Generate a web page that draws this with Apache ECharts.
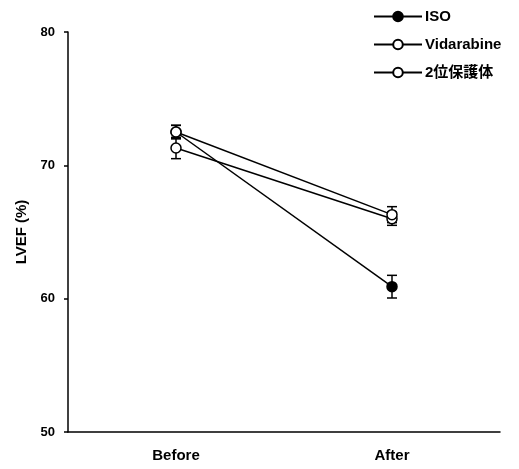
<!DOCTYPE html>
<html lang="en">
<head>
    <meta charset="UTF-8">
    <title>LVEF</title>
    <script src="https://cdn.jsdelivr.net/npm/echarts@6/dist/echarts.min.js"></script>
</head>
<body style="margin:0">
<div id="myChart" style="width: 519px;height: 469px;"></div>
<script>
    var categories = ['Before', 'After'];
    var seriesNames = ['ISO', 'Vidarabine', '2位保護体'];
    var isoMean = [72.5, 60.9];
    var isoErr = [0.5, 0.85];
    var vidMean = [72.5, 66.3];
    var vidErr = [0.5, 0.6];
    var protMean = [71.3, 66.0];
    var protErr = [0.8, 0.5];

    var font = 'Liberation Sans, Arial, Noto Sans CJK JP, sans-serif';

    function errorSeries(name, mean, err, z) {
        var data = [];
        for (var i = 0; i < mean.length; i++) {
            data.push([i, mean[i] - err[i], mean[i] + err[i]]);
        }
        return {
            name: name,
            type: 'custom',
            z: z,
            silent: true,
            data: data,
            renderItem: function (params, api) {
                var lo = api.coord([api.value(0), api.value(1)]);
                var hi = api.coord([api.value(0), api.value(2)]);
                var w = 5;
                var style = {stroke: '#000', lineWidth: 1.5};
                return {
                    type: 'group',
                    children: [
                        {type: 'line', shape: {x1: hi[0], y1: hi[1], x2: lo[0], y2: lo[1]}, style: style},
                        {type: 'line', shape: {x1: hi[0] - w, y1: hi[1], x2: hi[0] + w, y2: hi[1]}, style: style},
                        {type: 'line', shape: {x1: lo[0] - w, y1: lo[1], x2: lo[0] + w, y2: lo[1]}, style: style}
                    ]
                };
            }
        };
    }

    function lineSeries(name, mean, fill, z) {
        return {
            name: name,
            type: 'line',
            z: z,
            data: mean,
            symbol: 'circle',
            symbolSize: 10,
            lineStyle: {color: '#000', width: 1.5},
            itemStyle: {color: fill, borderColor: '#000', borderWidth: 1.5},
            emphasis: {disabled: true}
        };
    }

    var myChart = echarts.init(document.getElementById('myChart'));
    var option = {
        animation: false,
        textStyle: {fontFamily: font},
        grid: {left: 68, right: 19, top: 32, bottom: 37},
        legend: {
            orient: 'vertical',
            left: 368,
            top: 4,
            itemWidth: 48,
            itemHeight: 12,
            itemGap: 13,
            data: seriesNames,
            textStyle: {fontSize: 15, fontWeight: 'bold', color: '#000', padding: [0, 0, 0, -2]}
        },
        xAxis: {
            type: 'category',
            data: categories,
            boundaryGap: true,
            axisLine: {lineStyle: {color: '#000', width: 1.5}},
            axisTick: {inside: true, length: 5, lineStyle: {color: '#000', width: 1.5}},
            axisLabel: {color: '#000', fontSize: 15, fontWeight: 'bold', margin: 16}
        },
        yAxis: {
            type: 'value',
            min: 50,
            max: 80,
            interval: 10,
            name: 'LVEF (%)',
            nameLocation: 'middle',
            nameGap: 36,
            nameTextStyle: {color: '#000', fontSize: 15, fontWeight: 'bold'},
            splitLine: {show: false},
            axisLine: {show: true, lineStyle: {color: '#000', width: 1.5}},
            axisTick: {show: true, length: 4, lineStyle: {color: '#000', width: 1.5}},
            axisLabel: {color: '#000', fontSize: 13, fontWeight: 'bold', margin: 13}
        },
        series: [
            lineSeries(seriesNames[0], isoMean, '#000', 3),
            lineSeries(seriesNames[1], vidMean, '#fff', 5),
            lineSeries(seriesNames[2], protMean, '#fff', 4),
            errorSeries(seriesNames[0], isoMean, isoErr, 2),
            errorSeries(seriesNames[1], vidMean, vidErr, 2),
            errorSeries(seriesNames[2], protMean, protErr, 2)
        ]
    };
    myChart.setOption(option);
</script>
</body>
</html>
